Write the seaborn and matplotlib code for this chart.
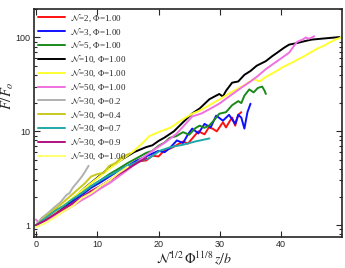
import pandas as pd
import numpy as np
import seaborn as sns
import matplotlib
matplotlib.use('Agg')
import matplotlib.pyplot as plt
from matplotlib.ticker import FixedLocator, LogLocator, NullFormatter, FuncFormatter

# Series (x = N^1/2 Phi^11/8 z/b, y = F/Fo)
labels = [r'$\mathcal{N}$=2, Φ=1.00', r'$\mathcal{N}$=3, Φ=1.00', r'$\mathcal{N}$=5, Φ=1.00',
          r'$\mathcal{N}$=10, Φ=1.00', r'$\mathcal{N}$=30, Φ=1.00', r'$\mathcal{N}$=50, Φ=1.00',
          r'$\mathcal{N}$=30, Φ=0.2', r'$\mathcal{N}$=30, Φ=0.4', r'$\mathcal{N}$=30, Φ=0.7',
          r'$\mathcal{N}$=30, Φ=0.9', r'$\mathcal{N}$=30, Φ=1.00 ']
colors = ['#ff1010', '#1010ff', '#1a8a1a', '#000000', '#ffff30', '#f070e0',
          '#b0b0b0', '#c8c820', '#20a8a8', '#b01080', '#ffff70']

red_x = [0, 1.5, 3, 4.5, 6, 7.5, 9, 10.5, 12, 13.5, 15, 16.9, 18, 19, 20, 21, 22, 22.9, 24, 24.8,
         25.5, 26.5, 27.5, 28.2, 28.8, 29.5, 30.5, 31, 31.6, 32, 32.5, 33, 33.5]
red_y = [1.0, 1.12, 1.3, 1.45, 1.7, 1.95, 2.3, 2.6, 3.0, 3.5, 4.0, 4.8, 4.9, 5.5, 5.4, 6.3, 6.6, 7.1, 7.8, 7.4,
         8.4, 10.0, 9.3, 11.0, 10.7, 10.0, 12.5, 11.0, 12.8, 14.0, 11.5, 15.0, 16.0]

blue_x = [0, 1.5, 3, 4.5, 6, 7.5, 9, 10.5, 12, 13.5, 15, 16.5, 18.5, 20, 21, 21.8, 23, 24, 24.8, 25.5,
          26.5, 27.5, 28.5, 29.4, 30.5, 31.5, 32.5, 33, 33.5, 34, 34.5, 35]
blue_y = [1.0, 1.15, 1.35, 1.55, 1.8, 2.1, 2.5, 2.85, 3.3, 3.8, 4.3, 4.9, 5.6, 6.2, 6.0, 6.6, 8.0, 7.5, 9.3, 10.7,
          9.5, 12.0, 11.0, 14.7, 13.0, 15.0, 12.0, 15.0, 14.0, 10.7, 16.0, 19.7]

green_x = [0, 1.5, 3, 4.5, 6, 7.5, 9, 10.5, 12, 13.5, 15, 16.5, 18, 19, 20, 21, 21.8, 22.9, 24, 25,
           26, 26.7, 27.5, 28.3, 29, 29.9, 31, 32, 33, 33.5, 34, 34.8, 35.5, 36.2, 36.9, 37.3, 37.5]
green_y = [1.0, 1.18, 1.4, 1.6, 1.9, 2.2, 2.6, 3.0, 3.5, 4.0, 4.6, 5.2, 5.9, 6.2, 7.0, 7.6, 8.5, 8.9, 9.8, 9.2,
           10.8, 11.5, 10.9, 11.6, 13.0, 15.4, 16.0, 19.0, 21.0, 20.0, 24.0, 28.0, 26.0, 29.0, 30.0, 27.0, 25.0]

black_x = [0, 2, 4, 6, 8, 10, 12, 14, 16, 18, 19, 20, 21, 22.5, 24, 25.5, 26.7, 28.3, 29.9, 30.5,
           31, 32, 33, 34, 35, 36, 37.5, 38.5, 39.5, 40.5, 41.3, 42.5, 44, 45, 46.5, 48, 49.5]
black_y = [1.0, 1.2, 1.5, 1.9, 2.5, 3.2, 4.1, 5.0, 6.0, 6.8, 7.1, 7.9, 8.6, 10.0, 12.5, 15.5, 17.5, 22.0, 25.0, 23.5,
           27.0, 33.0, 34.0, 40.0, 44.0, 50.0, 56.0, 63.0, 70.0, 78.0, 84.0, 87.0, 92.0, 95.0, 97.0, 99.0, 101.0]

yellow_x = [0, 3, 6, 9, 12, 14, 16, 17.4, 18.5, 20, 22, 24, 25.5, 26.7, 28, 30, 32, 34, 35.5, 36.5,
            37.5, 39, 40.2, 42, 43.5, 45.7, 47, 47.8, 49, 50]
yellow_y = [1.0, 1.35, 1.95, 2.8, 4.0, 5.0, 6.2, 7.5, 8.9, 9.8, 11.0, 13.5, 15.4, 16.6, 18.5, 22.0, 26.4, 31.0, 36.0, 34.0,
            38.0, 43.0, 48.0, 55.0, 62.0, 75.0, 82.0, 88.0, 96.0, 101.0]

pink_x = [0, 0.5, 1, 2, 3, 4.5, 6, 7.5, 9, 10.5, 12, 13.5, 15, 17, 19, 21.3, 23, 25.5, 27, 28.5,
          29.9, 31.5, 33.7, 35, 36, 37.5, 39, 40, 41.3, 42, 42.6, 43.5, 44, 44.5, 45.4]
pink_y = [1.15, 1.05, 1.2, 1.1, 1.25, 1.4, 1.6, 1.85, 2.1, 2.45, 2.8, 3.3, 3.9, 5.0, 6.2, 7.8, 9.5, 14.4, 15.5, 17.5,
          19.7, 23.5, 29.8, 34.0, 38.0, 46.0, 54.0, 60.0, 69.0, 80.0, 90.0, 95.0, 100.0, 97.0, 103.0]

gray_x = [0, 1, 2, 3, 4, 5, 5.5, 6, 7, 7.5, 8, 8.6]
gray_y = [1.0, 1.2, 1.35, 1.55, 1.75, 2.1, 2.2, 2.5, 3.0, 3.3, 3.7, 4.3]

olive_x = [0, 2, 4, 6, 8, 9, 10, 11, 12, 13, 14, 15.3]
olive_y = [1.0, 1.3, 1.65, 2.15, 2.8, 3.3, 3.5, 3.6, 4.3, 4.6, 5.3, 5.8]

teal_x = [0, 1.5, 3, 4.5, 6, 7.5, 9, 10.5, 12, 13.5, 15, 16.5, 18.5, 20.2, 22, 24, 26, 28.3]
teal_y = [1.0, 1.18, 1.4, 1.6, 1.9, 2.2, 2.6, 3.0, 3.4, 3.8, 4.3, 4.7, 5.2, 6.2, 6.8, 7.2, 7.8, 8.4]

purple_x = [0, 1.5, 3, 4.5, 6, 7.5, 9, 10.5, 12, 13.5, 15, 16.5, 18]
purple_y = [1.0, 1.12, 1.3, 1.5, 1.7, 2.0, 2.3, 2.6, 3.0, 3.5, 4.0, 4.6, 5.2]

paleyellow_x = [0, 1.5, 3, 4.5, 6, 7.5, 9, 10.5, 12, 13.5, 15]
paleyellow_y = [0.95, 1.05, 1.2, 1.4, 1.6, 1.95, 2.2, 2.6, 3.0, 3.6, 4.2]

all_x = [red_x, blue_x, green_x, black_x, yellow_x, pink_x, gray_x, olive_x, teal_x, purple_x, paleyellow_x]
all_y = [red_y, blue_y, green_y, black_y, yellow_y, pink_y, gray_y, olive_y, teal_y, purple_y, paleyellow_y]

rows = []
for lab, xs, ys in zip(labels, all_x, all_y):
    for xv, yv in zip(xs, ys):
        rows.append({'x': xv, 'y': yv, 'series': lab})
df = pd.DataFrame(rows)

sns.set_style('ticks')
plt.rcParams['mathtext.fontset'] = 'stix'
plt.rcParams['font.family'] = ['Liberation Serif', 'DejaVu Serif']

fig = plt.figure(figsize=(3.45, 2.68), dpi=100)
ax = fig.add_axes([0.0986, 0.116, 0.8924, 0.851])

sns.lineplot(data=df, x='x', y='y', hue='series', hue_order=labels, palette=colors,
             estimator=None, sort=False, linewidth=1.4, ax=ax)

ax.set_yscale('log')
ax.set_xlim(-0.3, 49.9)
ax.set_ylim(0.75, 202)
ax.xaxis.set_major_locator(FixedLocator([0, 10, 20, 30, 40]))
ax.yaxis.set_major_locator(FixedLocator([1, 10, 100]))
ax.yaxis.set_minor_locator(LogLocator(base=10, subs=np.arange(2, 10)))
ax.yaxis.set_minor_formatter(NullFormatter())
ax.yaxis.set_major_formatter(FuncFormatter(lambda v, p: '%d' % v))

ax.tick_params(which='both', direction='in', top=True, right=True, width=0.8)
ax.tick_params(which='major', length=4, labelsize=6.5, pad=2.5)
ax.tick_params(which='minor', length=2.5)
for lab in ax.get_xticklabels() + ax.get_yticklabels():
    lab.set_family('Liberation Sans')
for sp in ax.spines.values():
    sp.set_linewidth(1.2)

ax.set_xlabel(r'$\mathcal{N}^{1/2}\,\Phi^{11/8}\,z/b$', fontsize=10)
ax.xaxis.set_label_coords(0.52, -0.055)
ax.set_ylabel(r'$F/F_o$', fontsize=10.5)
ax.yaxis.set_label_coords(-0.058, 0.62)

ax.legend(loc='upper left', frameon=False, fontsize=6.5, handlelength=3.0,
          labelspacing=0.27, borderaxespad=0.25, borderpad=0.15, handletextpad=0.6)

fig.savefig('out.png', dpi=100)
